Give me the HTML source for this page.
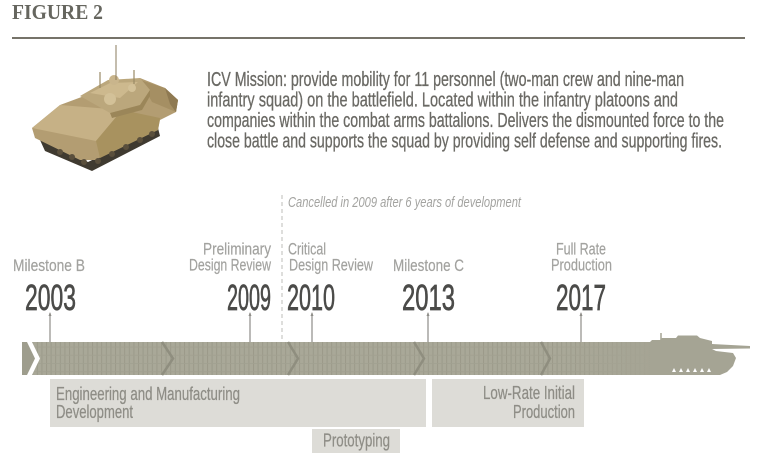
<!DOCTYPE html>
<html><head><meta charset="utf-8"><style>
html,body{margin:0;padding:0;background:#fff;}
svg{display:block;}
</style></head><body>
<svg width="768" height="461" viewBox="0 0 768 461" xmlns="http://www.w3.org/2000/svg">
<defs>
<pattern id="grid" x="0" y="0" width="4.6" height="8.25" patternUnits="userSpaceOnUse">
<rect width="4.6" height="8.25" fill="#a9a898"/>
<line x1="0.5" y1="0" x2="0.5" y2="8.25" stroke="#9b9a8a" stroke-width="1"/>
<line x1="0" y1="0.5" x2="4.6" y2="0.5" stroke="#a1a090" stroke-width="0.8"/>
</pattern>
<linearGradient id="fade" x1="0" y1="0" x2="1" y2="0">
<stop offset="0" stop-color="#a5a494" stop-opacity="0"/>
<stop offset="1" stop-color="#a5a494" stop-opacity="1"/>
</linearGradient>
</defs>
<rect width="768" height="461" fill="#fff"/>

<!-- Title -->
<text x="12" y="19" font-family="Liberation Serif, serif" font-weight="bold" font-size="21" fill="#66665f" textLength="91" lengthAdjust="spacingAndGlyphs">FIGURE 2</text>
<rect x="12" y="37" width="733" height="2" fill="#767369"/>

<!-- Tank illustration -->
<g>
<polygon points="40,140 88,162 158,128 160,136 92,171 45,151" fill="#3f3a30"/>
<polygon points="32,128 60,105 95,92 140,78 165,88 178,100 176,112 160,120 158,130 95,160 80,160 35,138" fill="#b39d72"/>
<polygon points="32,128 60,105 122,110 96,141" fill="#c6b186"/>
<polygon points="96,141 122,110 160,118 158,130 100,158" fill="#a8925f"/>
<polygon points="140,80 165,88 178,100 176,112 152,102" fill="#a58f63"/>
<polygon points="165,88 178,100 176,112 170,104" fill="#8f7a52"/>
<polygon points="80,96 108,80 140,78 150,90 140,105 110,113" fill="#bba77c"/>
<polygon points="90,93 110,83 138,82 120,98" fill="#cdb98e"/>
<polygon points="110,113 140,105 150,90 150,96 142,110 112,118" fill="#9b8659"/>
<circle cx="114" cy="80" r="5" fill="#c9b58c"/>
<circle cx="110" cy="99" r="6" fill="#d3c198"/>
<circle cx="132" cy="88" r="4" fill="#d3c198"/>
<line x1="116" y1="45" x2="116" y2="80" stroke="#8a7b5c" stroke-width="1"/>
<line x1="100" y1="72" x2="100" y2="88" stroke="#9a8a66" stroke-width="1.2"/>
<line x1="134" y1="70" x2="134" y2="84" stroke="#9a8a66" stroke-width="1.2"/>
<g fill="#5a4f3c">
<circle cx="60" cy="152" r="3"/><circle cx="72" cy="157" r="3"/><circle cx="84" cy="162" r="3"/>
<circle cx="98" cy="161" r="3"/><circle cx="112" cy="154" r="3"/><circle cx="126" cy="147" r="3"/><circle cx="140" cy="140" r="3"/><circle cx="152" cy="134" r="3"/>
</g>
</g>

<!-- Paragraph -->
<g font-family="Liberation Sans, sans-serif" font-size="20" fill="#6a6964" stroke="#6a6964" stroke-width="0.3">
<text x="207" y="86" textLength="477" lengthAdjust="spacingAndGlyphs">ICV Mission: provide mobility for 11 personnel (two-man crew and nine-man</text>
<text x="207" y="106.5" textLength="471" lengthAdjust="spacingAndGlyphs">infantry squad) on the battlefield. Located within the infantry platoons and</text>
<text x="207" y="127" textLength="517" lengthAdjust="spacingAndGlyphs">companies within the combat arms battalions. Delivers the dismounted force to the</text>
<text x="207" y="147.5" textLength="515" lengthAdjust="spacingAndGlyphs">close battle and supports the squad by providing self defense and supporting fires.</text>
</g>

<!-- Cancelled note -->
<line x1="282" y1="195" x2="282" y2="342" stroke="#bdbdba" stroke-width="1" stroke-dasharray="4,3"/>
<text x="288" y="207" font-family="Liberation Sans, sans-serif" font-style="italic" font-size="15" fill="#a3a3a0" textLength="233" lengthAdjust="spacingAndGlyphs">Cancelled in 2009 after 6 years of development</text>

<!-- Milestone labels -->
<g font-family="Liberation Sans, sans-serif" font-size="17" fill="#a2a29f" stroke="#a2a29f" stroke-width="0.2">
<text x="13" y="271" textLength="72" lengthAdjust="spacingAndGlyphs">Milestone B</text>
<text x="203" y="254.5" textLength="68" lengthAdjust="spacingAndGlyphs">Preliminary</text>
<text x="189" y="270.5" textLength="82" lengthAdjust="spacingAndGlyphs">Design Review</text>
<text x="288" y="254.5" textLength="38" lengthAdjust="spacingAndGlyphs">Critical</text>
<text x="289" y="270.5" textLength="84" lengthAdjust="spacingAndGlyphs">Design Review</text>
<text x="393" y="271" textLength="71" lengthAdjust="spacingAndGlyphs">Milestone C</text>
<text x="556" y="254.5" textLength="50" lengthAdjust="spacingAndGlyphs">Full Rate</text>
<text x="551" y="270.5" textLength="61" lengthAdjust="spacingAndGlyphs">Production</text>
</g>

<!-- Years -->
<g font-family="Liberation Sans, sans-serif" font-size="36" fill="#4b4b49" stroke="#4b4b49" stroke-width="0.7">
<text x="25" y="310" textLength="51" lengthAdjust="spacingAndGlyphs">2003</text>
<text x="227" y="310" textLength="44" lengthAdjust="spacingAndGlyphs">2009</text>
<text x="287" y="310" textLength="48" lengthAdjust="spacingAndGlyphs">2010</text>
<text x="402" y="310" textLength="53" lengthAdjust="spacingAndGlyphs">2013</text>
<text x="556" y="310" textLength="50" lengthAdjust="spacingAndGlyphs">2017</text>
</g>

<!-- Ticks -->
<g stroke="#8e8d88" stroke-width="1.2">
<line x1="50" y1="313" x2="50" y2="342"/>
<line x1="250" y1="313" x2="250" y2="342"/>
<line x1="312" y1="313" x2="312" y2="342"/>
<line x1="428" y1="313" x2="428" y2="342"/>
<line x1="581" y1="313" x2="581" y2="342"/>
</g>
<g fill="#8e8d88">
<polygon points="48.5,316 50,312 51.5,316"/>
<polygon points="248.5,316 250,312 251.5,316"/>
<polygon points="310.5,316 312,312 313.5,316"/>
<polygon points="426.5,316 428,312 429.5,316"/>
<polygon points="579.5,316 581,312 582.5,316"/>
</g>

<!-- Timeline bar -->
<polygon points="22,342 27,342 35,358.5 27,375 22,375" fill="#9e9d8d"/>
<polygon points="32,342 660,342 660,375 32,375 40,358.5" fill="url(#grid)"/>
<rect x="560" y="342" width="100" height="33" fill="url(#fade)"/>
<!-- right tank silhouette -->
<polygon points="650,342 652,340 660,340 662,338 676,338 678,335.5 697,335.5 700,338 712,341 712,344 750,346 750,348.5 712,349 716,351 733,353 736,358 733,366 727,372 720,375 650,375" fill="#a5a494"/>
<line x1="661" y1="333" x2="661" y2="340" stroke="#a5a494" stroke-width="1.5"/>
<g fill="#ffffff">
<polygon points="672,372 674,368 676,372"/>
<polygon points="679,372 681,368 683,372"/>
<polygon points="686,372 688,368 690,372"/>
<polygon points="693,372 695,368 697,372"/>
<polygon points="700,372 702,368 704,372"/>
<polygon points="707,372 709,368 711,372"/>
</g>
<!-- chevrons in bar -->
<g fill="none" stroke="#8f8e7f" stroke-width="2.5">
<polyline points="162,342 173,358.5 162,375"/>
<polyline points="288,342 298,358.5 288,375"/>
<polyline points="414,342 424,358.5 414,375"/>
<polyline points="541,342 550,358.5 541,375"/>
</g>

<!-- Phase boxes -->
<rect x="50" y="379" width="376" height="48" fill="#dddcd7"/>
<rect x="432" y="379" width="152" height="48" fill="#dddcd7"/>
<rect x="312" y="429" width="88" height="24" fill="#dddcd7"/>
<g font-family="Liberation Sans, sans-serif" font-size="18" fill="#8e8d86" stroke="#8e8d86" stroke-width="0.25">
<text x="56" y="400" textLength="184" lengthAdjust="spacingAndGlyphs">Engineering and Manufacturing</text>
<text x="56" y="418" textLength="77" lengthAdjust="spacingAndGlyphs">Development</text>
<text x="483" y="399" textLength="92" lengthAdjust="spacingAndGlyphs">Low-Rate Initial</text>
<text x="513" y="418" textLength="62" lengthAdjust="spacingAndGlyphs">Production</text>
<text x="323" y="446.5" textLength="67" lengthAdjust="spacingAndGlyphs">Prototyping</text>
</g>
</svg>
</body></html>
